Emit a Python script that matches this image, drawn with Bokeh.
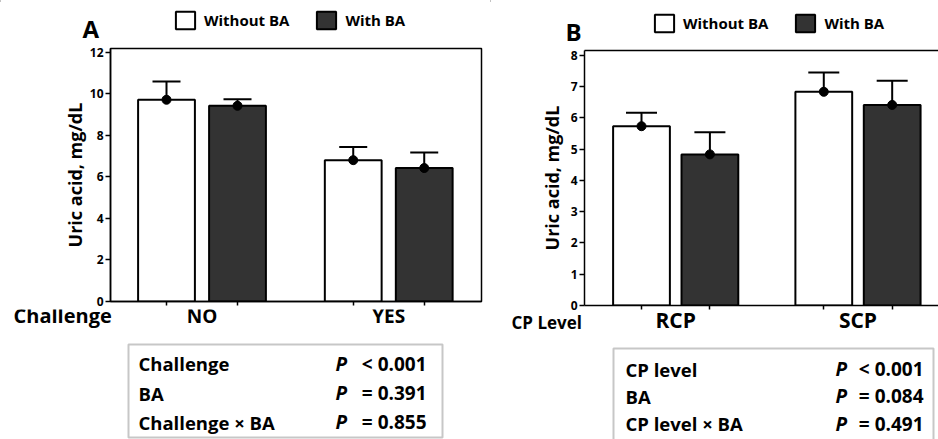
from bokeh.plotting import figure
from bokeh.models import (Range1d, FixedTicker, LinearAxis, BoxAnnotation,
                          Whisker, TeeHead, ColumnDataSource, Legend, LegendItem)
from bokeh.core.properties import value
from bokeh.layouts import row, column
from bokeh.embed import file_html
from bokeh.resources import INLINE

FONT = "Open Sans"
DARK = "#333333"

# ---------------- data ----------------
series_names = ["Without BA", "With BA"]

a_groups = ["NO", "YES"]
a_without = [9.72, 6.81]
a_without_se = [0.88, 0.64]
a_with = [9.43, 6.43]
a_with_se = [0.32, 0.75]
a_factor = "Challenge"
a_terms = ["Challenge", "BA", "Challenge × BA"]
a_pvals = ["< 0.001", "= 0.391", "= 0.855"]
a_yticks = [0, 2, 4, 6, 8, 10, 12]

b_groups = ["RCP", "SCP"]
b_without = [5.73, 6.83]
b_without_se = [0.43, 0.62]
b_with = [4.83, 6.41]
b_with_se = [0.71, 0.77]
b_factor = "CP Level"
b_terms = ["CP level", "BA", "CP level × BA"]
b_pvals = ["< 0.001", "= 0.084", "= 0.491"]
b_yticks = [0, 1, 2, 3, 4, 5, 6, 7, 8]

COLORS = ["white", DARK]


def strip(cfg, top, bottom):
    """A figure whose frame is its whole canvas; x in chart data units, y in page pixels."""
    cl, cr = cfg["canvas_x"]
    dx = cfg["dx"]
    p = figure(width=cr - cl, height=bottom - top, output_backend="svg", toolbar_location=None,
               x_range=Range1d(dx(cl), dx(cr)), y_range=Range1d(bottom, top),
               x_axis_location=None, y_axis_location=None, frame_align=False,
               min_border_left=0, min_border_right=0, min_border_top=0, min_border_bottom=0)
    p.outline_line_color = None
    p.background_fill_color = "white"
    p.border_fill_color = "white"
    p.grid.visible = False
    return p


def txt(p, xs, baselines, texts, size, align="left", style="bold"):
    # place by baseline: text is centred vertically, so shift up by the em-box offset
    ys = [b - 0.39 * size for b in baselines]
    p.text(x=xs, y=ys, text=texts, text_font=value(FONT), text_font_style=style,
           text_font_size=f"{size}px", text_align=align, text_baseline="middle",
           text_color="black")


def make_panel(cfg):
    cl, cr = cfg["canvas_x"]
    fl, ft, fr, fb = cfg["frame"]
    ppu, x0, step = cfg["ppu"], cfg["x0"], cfg["step"]
    dx = lambda px: (px - x0) / ppu
    cfg["dx"] = dx
    s_top, c_top, c_bot, s_bot = cfg["rows_y"]

    # ---------- top strip: panel letter + legend ----------
    top = strip(cfg, s_top, c_top)
    lx, ly, letter_size = cfg["letter_pos"]
    txt(top, [dx(lx)], [ly], [cfg["letter"]], letter_size)
    dummies = [top.vbar(x=[dx(-100)], top=[0], width=0.1, fill_color=c, line_color="black", line_width=2)
               for c in COLORS]
    gx, gtop = cfg["legend"]
    legend = Legend(items=[LegendItem(label=n, renderers=[r]) for n, r in zip(series_names, dummies)],
                    location=(gx - cl, (c_top - gtop) - 22), orientation="horizontal",
                    glyph_width=24, glyph_height=22, label_standoff=7, spacing=25,
                    padding=0, margin=0, border_line_color=None, background_fill_alpha=0,
                    label_text_font=FONT, label_text_font_style="bold",
                    label_text_font_size="15px", label_text_color="black")
    top.add_layout(legend, "center")

    # ---------- chart ----------
    xs = dx(fl)
    xe = dx(fr)
    p = figure(width=cr - cl, height=c_bot - c_top, output_backend="svg", toolbar_location=None,
               x_range=Range1d(xs, xe), y_range=Range1d(0, cfg["ytop"]), frame_align=False,
               min_border_left=fl - cl, min_border_right=cr - fr,
               min_border_top=ft - c_top, min_border_bottom=c_bot - fb)
    p.background_fill_color = "white"
    p.border_fill_color = "white"
    p.xgrid.visible = False
    p.ygrid.visible = False

    groups = cfg["groups"]
    bar_xs = []
    for s, (vals, ses, col) in enumerate(zip(cfg["means"], cfg["ses"], COLORS)):
        xsr = [g * step + s for g in range(len(groups))]
        bar_xs += xsr
        src = ColumnDataSource(dict(x=xsr, top=vals, up=[v + e for v, e in zip(vals, ses)]))
        p.vbar(x="x", top="top", bottom=0, width=cfg["bw"], source=src,
               fill_color=col, line_color="black", line_width=2)
        p.add_layout(Whisker(base="x", lower="top", upper="up", source=src, dimension="height",
                             line_color="black", line_width=2, lower_head=None,
                             upper_head=TeeHead(size=cfg["cap"], line_color="black", line_width=2),
                             level="annotation"))
        p.scatter(x="x", y="top", source=src, size=9, color="black")

    xa = p.below[0]
    xa.ticker = FixedTicker(ticks=[], minor_ticks=sorted(bar_xs))
    xa.major_tick_out = 0
    xa.major_tick_in = 0
    xa.minor_tick_out = 4
    xa.minor_tick_in = 0
    xa.minor_tick_line_width = 1.5
    xa.axis_line_width = 1.5
    xa.major_label_standoff = 0

    ya = p.left[0]
    ya.ticker = FixedTicker(ticks=cfg["yticks"])
    ya.minor_tick_out = 0
    ya.minor_tick_in = 0
    ya.major_tick_out = 5
    ya.major_tick_in = 0
    ya.major_tick_line_width = 1.5
    ya.axis_line_width = 1.5
    ya.major_label_text_font = FONT
    ya.major_label_text_font_style = "bold"
    ya.major_label_text_font_size = "12px"
    ya.major_label_text_color = "black"
    ya.major_label_standoff = 2
    ya.axis_label = "Uric acid, mg/dL"
    ya.axis_label_text_font = FONT
    ya.axis_label_text_font_style = "bold"
    ya.axis_label_text_font_size = "18px"
    ya.axis_label_text_color = "black"
    ya.axis_label_standoff = cfg["ystandoff"]

    if cfg["outline"]:
        p.outline_line_color = "black"
        p.outline_line_width = 1.5
    else:
        p.outline_line_color = None
        p.add_layout(LinearAxis(ticker=FixedTicker(ticks=[]), axis_line_width=1.5,
                                major_tick_out=0, major_tick_in=0, minor_tick_out=0,
                                minor_tick_in=0, major_label_standoff=0), "above")

    # ---------- bottom strip: factor labels + statistics table ----------
    bot = strip(cfg, c_bot, s_bot)
    centers = [g * step + 0.5 for g in range(len(groups))]
    fxp, fyp, fsize = cfg["factor_pos"]
    txt(bot, [dx(fxp)], [fyp], [cfg["factor"]], fsize)
    txt(bot, centers, [cfg["group_base"]] * len(groups), groups, cfg["group_size"], align="center")

    bl, bt, br, bbm = cfg["box"]
    bot.add_layout(BoxAnnotation(left=dx(bl), right=dx(br), top=bt, bottom=bbm,
                                 fill_alpha=0, line_color="#444444", line_width=2))
    tx, px_, vx = cfg["cols"]
    rows = cfg["rows"]
    n = len(rows)
    txt(bot, [dx(tx)] * n, rows, cfg["terms"], 18.5)
    txt(bot, [dx(px_)] * n, rows, ["P"] * n, 19, style="bold italic")
    txt(bot, [dx(vx)] * n, rows, cfg["pvals"], 19, align="right")

    return column(top, p, bot)


cfg_a = dict(canvas_x=(0, 490), rows_y=(0, 46, 309, 439), frame=(110, 48, 481, 301),
             ppu=71.0, x0=166.0, step=2.63, bw=0.80, cap=28, ytop=12.19, groups=a_groups,
             means=[a_without, a_with], ses=[a_without_se, a_with_se], yticks=a_yticks,
             outline=True, ystandoff=0,
             legend=(173, 9), letter="A", letter_pos=(82, 37, 24),
             factor=a_factor, factor_pos=(13, 323, 20), group_base=323, group_size=19,
             box=(128, 344, 442, 437), cols=(138, 335, 426),
             terms=a_terms, pvals=a_pvals, rows=[370.5, 400, 429])

cfg_b = dict(canvas_x=(490, 938), rows_y=(0, 46, 312, 439), frame=(584, 50, 938, 305),
             ppu=68.4, x0=641.0, step=2.665, bw=0.83, cap=31, ytop=8.15, groups=b_groups,
             means=[b_without, b_with], ses=[b_without_se, b_with_se], yticks=b_yticks,
             outline=False, ystandoff=4,
             legend=(652, 12), letter="B", letter_pos=(565, 40, 24),
             factor=b_factor, factor_pos=(511, 329, 17), group_base=328, group_size=21,
             box=(613, 348, 933, 445), cols=(625, 835, 923),
             terms=b_terms, pvals=b_pvals, rows=[376, 403.3, 430.7])

layout = row(make_panel(cfg_a), make_panel(cfg_b))

open("out.html", "w").write(file_html(layout, INLINE))
